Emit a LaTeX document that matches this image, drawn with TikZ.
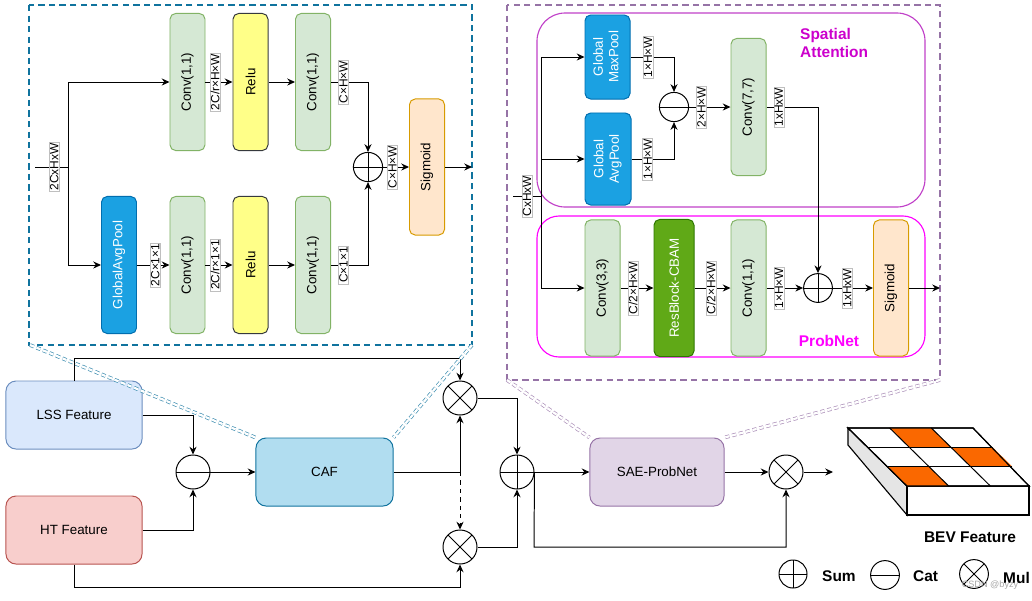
\documentclass[tikz,border=0pt]{standalone}
\usepackage{fontspec}
\setmainfont{Liberation Sans}
\usepackage{tikz}
\usetikzlibrary{arrows.meta, calc, positioning}

\definecolor{convFill}{HTML}{D5E8D4}
\definecolor{convLine}{HTML}{82B366}
\definecolor{reluFill}{HTML}{FFFF88}
\definecolor{reluLine}{HTML}{36393D}
\definecolor{sigmFill}{HTML}{FFE6CC}
\definecolor{sigmLine}{HTML}{D79B00}
\definecolor{poolFill}{HTML}{1BA1E2}
\definecolor{poolLine}{HTML}{006EAF}
\definecolor{resFill}{HTML}{60A917}
\definecolor{resLine}{HTML}{2D7600}
\definecolor{lssFill}{HTML}{DAE8FC}
\definecolor{lssLine}{HTML}{6C8EBF}
\definecolor{htFill}{HTML}{F8CECC}
\definecolor{htLine}{HTML}{B85450}
\definecolor{cafFill}{HTML}{B1DDF0}
\definecolor{cafLine}{HTML}{10739E}
\definecolor{saeFill}{HTML}{E1D5E7}
\definecolor{saeLine}{HTML}{9673A6}
\definecolor{saBorder}{HTML}{C040C8}
\definecolor{saText}{HTML}{CC00CC}
\definecolor{pnColor}{HTML}{FF00FF}
\definecolor{bevOrange}{HTML}{FA6800}

\newcommand{\vlbl}[1]{\rotatebox{90}{#1}}

\begin{document}
\begin{tikzpicture}[x=0.025cm, y=-0.025cm, line width=0.7pt,
    >={Stealth[length=5.5pt, width=5pt]},
    blk/.style={draw, rounded corners=4pt, inner sep=0pt, minimum width=0.875cm,
        minimum height=3.425cm, font=\fontsize{9.5}{11}\selectfont},
    conv/.style={blk, fill=convFill, draw=convLine},
    relu/.style={blk, fill=reluFill, draw=reluLine},
    sigm/.style={blk, fill=sigmFill, draw=sigmLine},
    pool/.style={blk, fill=poolFill, draw=poolLine, text=white},
    feat/.style={draw, rounded corners=0.25cm, minimum width=3.4cm, minimum height=1.7cm,
        font=\fontsize{9.5}{11}\selectfont},
    dimlbl/.style={fill=white, draw=black!25, line width=0.3pt, inner sep=0.6pt,
        font=\fontsize{8.5}{9}\selectfont},
    op/.style={circle, draw, fill=white, inner sep=0pt, minimum size=0.85cm},
    sumop/.style={op, path picture={\draw (path picture bounding box.north) -- (path picture bounding box.south)
        (path picture bounding box.west) -- (path picture bounding box.east);}},
    catop/.style={op, path picture={\draw (path picture bounding box.west) -- (path picture bounding box.east);}},
    mulop/.style={op, path picture={\draw (path picture bounding box.north west) -- (path picture bounding box.south east)
        (path picture bounding box.north east) -- (path picture bounding box.south west);}},
    panelA/.style={draw=cafLine, line width=1.5pt, dash pattern=on 4.5pt off 3pt},
    panelB/.style={draw=saeLine, line width=1.5pt, dash pattern=on 4.5pt off 3pt},
    zoomA/.style={draw=cafLine!80, densely dashed, line width=0.5pt, double, double distance=1.6pt},
    zoomB/.style={draw=saeLine!80, densely dashed, line width=0.5pt, double, double distance=1.6pt}]

    \useasboundingbox (0,0) rectangle (1032,600);

    % =================================================================
    % 1. CAF PANEL (top left)
    % =================================================================
    \draw[panelA] (29,5) rectangle (472,345);

    \node[conv] (cvA1) at (187.5,82) {\vlbl{Conv(1,1)}};
    \node[relu] (reA1) at (250.5,82) {\vlbl{Relu}};
    \node[conv] (cvA2) at (313,82) {\vlbl{Conv(1,1)}};
    \node[pool] (gap) at (119,265) {\vlbl{GlobalAvgPool}};
    \node[conv] (cvB1) at (187.5,265) {\vlbl{Conv(1,1)}};
    \node[relu] (reB1) at (250.5,265) {\vlbl{Relu}};
    \node[conv] (cvB2) at (313,265) {\vlbl{Conv(1,1)}};
    \node[sumop, minimum size=0.73cm] (sumA) at (368,167) {};
    \node[sigm, minimum height=3.4cm] (sigA) at (427,167) {\vlbl{Sigmoid}};

    \coordinate (inA) at (35,167);
    \coordinate (jA) at (68,167);
    \coordinate (outA) at (472,167);

    \draw (inA) -- node[dimlbl, pos=0.58] {\vlbl{2CxHxW}} (jA);
    \draw[->] (jA) |- (cvA1.west);
    \draw[->] (jA) |- (gap.west);
    \draw[->] (cvA1.east) -- node[dimlbl, pos=0.36] {\vlbl{2C/r×H×W}} (reA1.west);
    \draw[->] (reA1.east) -- (cvA2.west);
    \draw[->] (cvA2.east) -| node[dimlbl, pos=0.17] {\vlbl{C×H×W}} (sumA.north);
    \draw[->] (gap.east) -- node[dimlbl, pos=0.56] {\vlbl{2C×1×1}} (cvB1.west);
    \draw[->] (cvB1.east) -- node[dimlbl, pos=0.36] {\vlbl{2C/r×1×1}} (reB1.west);
    \draw[->] (reB1.east) -- (cvB2.west);
    \draw[->] (cvB2.east) -| node[dimlbl, pos=0.17] {\vlbl{C×1×1}} (sumA.south);
    \draw[->] (sumA.east) -- node[dimlbl, pos=0.36] {\vlbl{C×H×W}} (sigA.west);
    \draw[->] (sigA.east) -- (outA);

    % =================================================================
    % 2. SAE-PROBNET PANEL (top right)
    % =================================================================
    \draw[panelB] (507,5) rectangle (940,380);
    \draw[saBorder, line width=0.8pt, rounded corners=0.7cm] (537,13) rectangle (925,207);
    \draw[pnColor, line width=0.8pt, rounded corners=0.55cm] (537,216) rectangle (925,357);
    \node[anchor=west, align=left, text=saText, font=\fontsize{11}{13}\selectfont\bfseries]
        (saTitle) at (795,43) {Spatial\\Attention};
    \node[text=pnColor, font=\fontsize{11}{13}\selectfont\bfseries] (pnTitle) at (829,341) {ProbNet};

    \node[pool, minimum width=1.125cm, minimum height=2.1cm] (maxp) at (607.5,57)
        {\vlbl{\begin{tabular}{@{}c@{}}Global\\MaxPool\end{tabular}}};
    \node[pool, minimum width=1.15cm, minimum height=2.3cm] (avgp) at (608,159)
        {\vlbl{\begin{tabular}{@{}c@{}}Global\\AvgPool\end{tabular}}};
    \node[catop, minimum size=0.73cm] (catS) at (674,107) {};
    \node[conv] (cv77) at (748.5,107) {\vlbl{Conv(7,7)}};
    \node[conv, minimum height=3.4cm] (cv33) at (602.5,288) {\vlbl{Conv(3,3)}};
    \node[blk, fill=resFill, draw=resLine, text=white, minimum width=1cm] (resb) at (674,288)
        {\vlbl{ResBlock-CBAM}};
    \node[conv, minimum height=3.4cm] (cvP) at (748.5,288) {\vlbl{Conv(1,1)}};
    \node[sumop, minimum size=0.72cm] (sumP) at (818,288) {};
    \node[sigm, minimum height=3.4cm] (sigP) at (891,288) {\vlbl{Sigmoid}};

    \coordinate (inB) at (513,196);
    \coordinate (jB) at (541,196);
    \coordinate (outB) at (940,288);

    \draw (inB) -- node[dimlbl, pos=0.5] {\vlbl{CxHxW}} (jB);
    \draw[->] (jB) |- (maxp.west);
    \draw[->] (jB) |- (avgp.west);
    \draw[->] (jB) |- (cv33.west);
    \draw[->] (maxp.east) -| node[dimlbl, pos=0.2] {\vlbl{1×H×W}} (catS.north);
    \draw[->] (avgp.east) -| node[dimlbl, pos=0.19] {\vlbl{1×H×W}} (catS.south);
    \draw[->] (catS.east) -- node[dimlbl, pos=0.3] {\vlbl{2×H×W}} (cv77.west);
    \draw[->] (cv77.east) -| node[dimlbl, pos=0.12] {\vlbl{1xHxW}} (sumP.north);
    \draw[->] (cv33.east) -- node[dimlbl, pos=0.38] {\vlbl{C/2×H×W}} (resb.west);
    \draw[->] (resb.east) -- node[dimlbl, pos=0.46] {\vlbl{C/2×H×W}} (cvP.west);
    \draw[->] (cvP.east) -- node[dimlbl, pos=0.34] {\vlbl{1×H×W}} (sumP.west);
    \draw[->] (sumP.east) -- node[dimlbl, pos=0.36] {\vlbl{1xHxW}} (sigP.west);
    \draw[->] (sigP.east) -- (outB);

    % =================================================================
    % 3. MAIN FLOW (bottom)
    % =================================================================
    \node[feat, fill=lssFill, draw=lssLine] (lss) at (74,415) {LSS Feature};
    \node[feat, fill=htFill, draw=htLine] (ht) at (74,530) {HT Feature};
    \node[catop] (catB) at (193,472) {};
    \node[feat, fill=cafFill, draw=cafLine, minimum width=3.425cm] (caf) at (324.5,472) {CAF};
    \node[mulop] (mulA) at (460,398) {};
    \node[mulop] (mulB) at (460,547) {};
    \node[sumop] (sumB) at (517,472) {};
    \node[feat, fill=saeFill, draw=saeLine, minimum width=3.35cm] (sae) at (657,472) {SAE-ProbNet};
    \node[mulop] (mulC) at (786,472) {};

    \coordinate (lssUp) at (74,358);
    \coordinate (htDn) at (74,587);
    \coordinate (jCaf) at (460,472);
    \coordinate (byp) at (534,547);
    \coordinate (bevIn) at (833,472);

    \draw[->] (lss.east) -| (catB.north);
    \draw[->] (ht.east) -| (catB.south);
    \draw[->] (catB.east) -- (caf.west);
    \draw[->] (lss.north) -- (lssUp) -| (mulA.north);
    \draw[->] (ht.south) -- (htDn) -| (mulB.south);
    \draw[->] (caf.east) -| (mulA.south);
    \draw[->, dashed, line width=0.6pt] (jCaf) -- (mulB.north);
    \draw[->] (mulA.east) -| (sumB.north);
    \draw[->] (mulB.east) -| (sumB.south);
    \draw[->] (sumB.east) -- (sae.west);
    \draw[->] (sumB.east) -- (byp) -| (mulC.south);
    \draw[->] (sae.east) -- (mulC.west);
    \draw[->] (mulC.east) -- (bevIn);

    % zoom lines from panels to their blocks
    \draw[zoomA] (30,345) -- (caf.north west);
    \draw[zoomA] (472,345) -- (caf.north east);
    \draw[zoomB] (507,380) -- (sae.north west);
    \draw[zoomB] (940,380) -- (sae.north east);

    % =================================================================
    % 4. BEV FEATURE BLOCK
    % =================================================================
    \coordinate (bTL) at (848,428);
    \coordinate (bTR) at (973,428);
    \coordinate (bBR) at (1029,486);
    \coordinate (bBL) at (907,486);
    \draw[fill=black!10, line width=0.8pt] (bTL) -- (848,445) -- (907,515) -- (bBL) -- cycle;
    \draw[fill=white, line width=0.8pt] (bBL) -- (bBR) -- (1029,515) -- (907,515) -- cycle;
    \draw[fill=white, line width=0.8pt] (bTL) -- (bTR) -- (bBR) -- (bBL) -- cycle;
    \foreach \r/\c in {0/1, 1/2, 2/0} {
        \fill[bevOrange] ({848+125*\c/3+59*\r/3},{428+58*\r/3})
            -- ({848+125*(\c+1)/3+59*\r/3},{428+58*\r/3})
            -- ({848+125*(\c+1)/3+59*(\r+1)/3},{428+58*(\r+1)/3})
            -- ({848+125*\c/3+59*(\r+1)/3},{428+58*(\r+1)/3}) -- cycle;
    }
    \foreach \i in {1,2} {
        \draw ({848+59*\i/3},{428+58*\i/3}) -- ({973+59*\i/3},{428+58*\i/3});
        \draw ({848+125*\i/3},428) -- ({907+125*\i/3},486);
    }
    \draw[line width=0.8pt] (bTL) -- (bTR) -- (bBR) -- (bBL) -- cycle;
    \node[font=\fontsize{11}{13}\selectfont\bfseries] (bevLbl) at (970,537) {BEV Feature};

    % =================================================================
    % 5. LEGEND
    % =================================================================
    \node[sumop, minimum size=0.7cm] (lgSum) at (793,574) {};
    \node[anchor=west, font=\fontsize{11}{13}\selectfont\bfseries] (lgSumT) at (817,576) {Sum};
    \node[catop, minimum size=0.72cm] (lgCat) at (885,575) {};
    \node[anchor=west, font=\fontsize{11}{13}\selectfont\bfseries] (lgCatT) at (908,576) {Cat};
    \node[mulop, minimum size=0.72cm] (lgMul) at (974,574) {};
    \node[anchor=west, font=\fontsize{11}{13}\selectfont\bfseries] (lgMulT) at (998,578) {Mul};
    \node[text=black!35, font=\fontsize{6.5}{7}\selectfont] (wm) at (990,585) {CSDN @byzy};

\end{tikzpicture}
\end{document}
